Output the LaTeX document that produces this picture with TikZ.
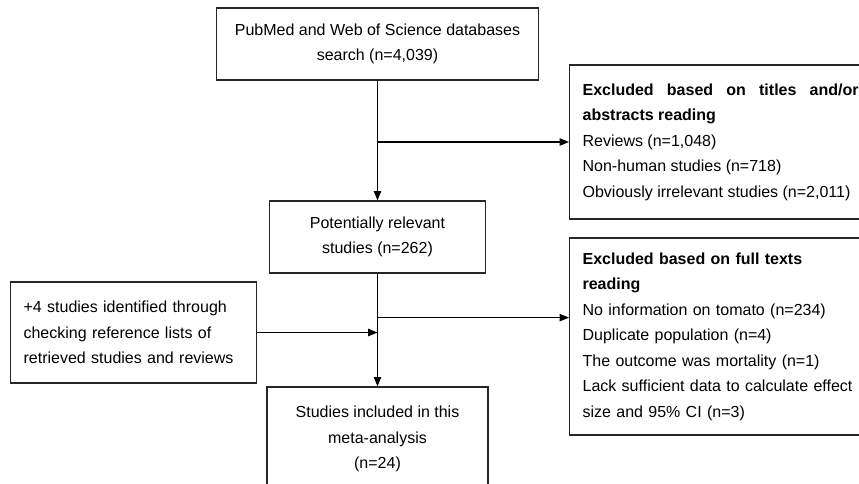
\documentclass[tikz,border=0pt]{standalone}
\usepackage{fontspec}
\setmainfont{Liberation Sans}
\usepackage{tikz}
\usetikzlibrary{arrows.meta,positioning,calc}
\hyphenpenalty=10000
\exhyphenpenalty=10000

\begin{document}
\begin{tikzpicture}[
  x=0.75pt, y=-0.75pt,
  box/.style = {
    rectangle, draw=black!85, line width=0.9pt, fill=white,
    inner sep=0pt, align=center,
    font=\fontsize{12}{19.1}\selectfont
  },
  sidebox/.style = {
    box, anchor=west, inner xsep=9.75pt, text width=207pt
  },
  arr/.style = {-{Triangle[length=7pt,width=5.5pt]}, line width=0.9pt, black}
]
  \clip (0,0) rectangle (859,483);
  \fill[white] (0,0) rectangle (859,483);

  \node[box, minimum width=241.5pt, minimum height=54pt] (search) at (377.5,44)
    {PubMed and Web of Science databases\\search (n=4,039)};
  \node[box, minimum width=162pt, minimum height=54pt] (relevant) at (377.5,237)
    {Potentially relevant\\studies (n=262)};
  \node[box, minimum width=165.75pt, minimum height=78pt] (included) at (377.5,439)
    {Studies included in this\\meta-analysis\\(n=24)};
  \node[box, anchor=west, align=left, inner xsep=9.75pt, text width=165pt,
        minimum height=75.75pt] (extra) at (10,332.5)
    {+4 studies identified through\\checking reference lists of\\retrieved studies and reviews};

  \node[sidebox, align=justify, minimum height=115.5pt] (exclA) at (569,142)
    {\textbf{Excluded based on titles and/or \mbox{abstracts} reading}\\
     Reviews (n=1,048)\\
     Non-human studies (n=718)\\
     Obviously irrelevant studies (n=2,011)};
  \node[sidebox, align=left, minimum height=147.75pt] (exclB) at (569,336.5)
    {\textbf{Excluded based on full texts}\\
     \textbf{reading}\\
     No information on tomato (n=234)\\
     Duplicate population (n=4)\\
     The outcome was mortality (n=1)\\
     Lack sufficient data to calculate effect\\
     size and 95\% CI (n=3)};

  \coordinate (split) at ($(relevant.south)+(0,44)$);

  \draw[arr] (search.south) -- (relevant.north);
  \draw[arr] (search.south |- exclA.west) -- (exclA.west);
  \draw[arr] (relevant.south) -- (included.north);
  \draw[arr] (split) -- (split -| exclB.west);
  \draw[arr] (extra.east) -- (extra.east -| relevant.south);
\end{tikzpicture}
\end{document}
